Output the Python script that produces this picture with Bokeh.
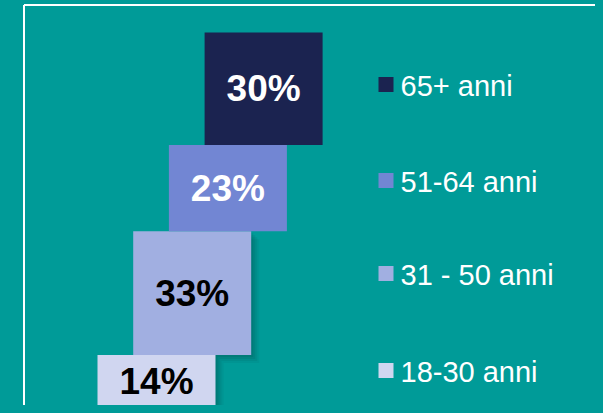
from bokeh.plotting import figure
from bokeh.models import Range1d, ColumnDataSource
from bokeh.core.properties import value
from bokeh.embed import file_html
from bokeh.resources import INLINE

# ---- data (bottom to top) ----
categories = ["18-30 anni", "31 - 50 anni", "51-64 anni", "65+ anni"]
shares = [14, 33, 23, 30]
labels = ["14%", "33%", "23%", "30%"]

# ---- style ----
box_colors = ["#D0D6F0", "#A1AFE1", "#7286D3", "#1B2350"]
label_colors = ["#000000", "#000000", "#FFFFFF", "#FFFFFF"]
has_shadow = [True, True, False, False]
BG = "#009B98"

W, H = 595, 405
PX_PER_PCT = 3.75
BASE_PX = 407           # pixel row (from top of figure) of 0%

def ypix(pix_from_top):
    return (BASE_PX - pix_from_top) / PX_PER_PCT

p = figure(width=W, height=H, output_backend="svg", toolbar_location=None,
           x_range=Range1d(0, W), y_range=Range1d(ypix(H), ypix(0)),
           min_border=0, background_fill_color=BG, border_fill_color=BG)
p.axis.visible = False
p.grid.visible = False
p.outline_line_color = None

# staircase geometry
first_center, step, box_w = 156, 35.7, 118
n = len(shares)
bottoms, tops, cums = [], [], 0
for s in shares:
    bottoms.append(cums)
    cums += s
    tops.append(cums)
centers = [first_center + i * step for i in range(n)]
lefts = [c - box_w / 2 for c in centers]
rights = [c + box_w / 2 for c in centers]
mids = [(b + t) / 2 for b, t in zip(bottoms, tops)]

# soft drop shadows
for d, a in [(2, 0.10), (4, 0.09), (6, 0.08), (8, 0.06)]:
    idx = [i for i in range(n) if has_shadow[i]]
    p.quad(left=[lefts[i] + d for i in idx], right=[rights[i] + d for i in idx],
           bottom=[bottoms[i] - d / PX_PER_PCT for i in idx],
           top=[tops[i] - d / PX_PER_PCT for i in idx],
           fill_color="#00302F", fill_alpha=a, line_color=None)

src = ColumnDataSource(dict(left=lefts, right=rights, bottom=bottoms, top=tops,
                            color=box_colors, x=centers, y=mids, label=labels,
                            tcolor=label_colors, cat=categories))
p.quad(left="left", right="right", bottom="bottom", top="top", fill_color="color",
       line_color=None, source=src)
p.text(x="x", y="y", text="label", text_color="tcolor", source=src,
       text_font=value("Liberation Sans"), text_font_style="bold",
       text_font_size="37px", text_align="center", text_baseline="middle")

# legend
leg_rows_px = [370, 273, 180, 84]   # pixel rows for bottom..top categories
sq_x, sq_size, txt_x = 385.5, 15, 400
p.rect(x=[sq_x] * n, y=[ypix(r) for r in leg_rows_px], width=sq_size,
       height=sq_size / PX_PER_PCT, fill_color=box_colors, line_color=None)
p.text(x=[txt_x] * n, y=[ypix(r + 1) for r in leg_rows_px], text=categories,
       text_color="#FFFFFF", text_font=value("Liberation Sans"),
       text_font_size="29px", text_align="left", text_baseline="middle")

# white frame (left and top edges)
p.segment(x0=[23.5, 23.5], y0=[ypix(4.5), ypix(4.5)], x1=[23.5, W + 5],
          y1=[ypix(H + 5), ypix(4.5)], line_color="#FFFFFF", line_width=2)

html = file_html(p, INLINE)
html = html.replace("</head>", "<style>html, body {background:%s;}</style></head>" % BG, 1)
open("out.html", "w").write(html)
